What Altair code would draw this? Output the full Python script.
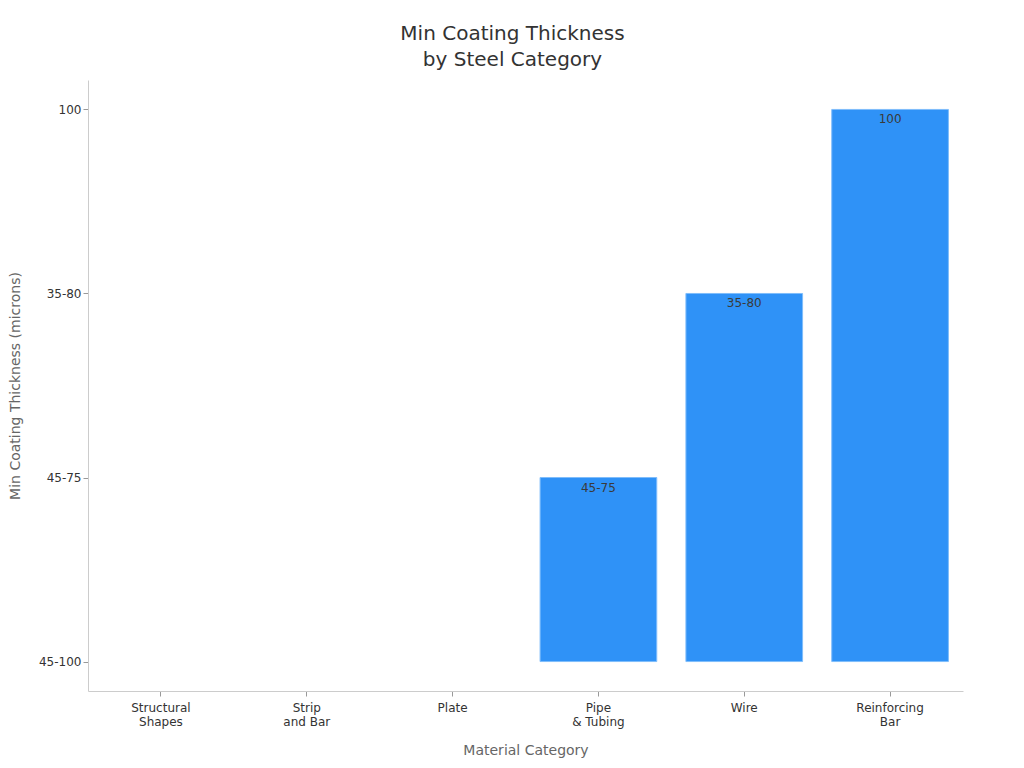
import altair as alt
import pandas as pd

categories = ["Structural\nShapes", "Strip\nand Bar", "Plate", "Pipe\n& Tubing", "Wire", "Reinforcing\nBar"]
values = ["45-100", "45-100", "45-100", "45-75", "35-80", "100"]
y_order = ["100", "35-80", "45-75", "45-100"]
baseline_value = "45-100"

df = pd.DataFrame({
    "cat": categories,
    "val": values,
    "label": [v if v != baseline_value else "" for v in values],
})

FONT = "DejaVu Sans"

x_enc = alt.X(
    "cat:N",
    sort=categories,
    scale=alt.Scale(paddingInner=0.2, paddingOuter=0.1),
    axis=alt.Axis(
        title="Material Category",
        labelAngle=0,
        labelExpr="split(datum.label, '\\n')",
        labelFontSize=12,
        labelColor="#333333",
        titleFontSize=14,
        titleColor="#666666",
        titleFontWeight="normal",
        titlePadding=16,
        domainColor="#cccccc",
        tickColor="#999999",
        tickSize=5,
        labelPadding=6,
        grid=False,
    ),
)

y_enc = alt.Y(
    "val:O",
    sort=y_order,
    scale=alt.Scale(type="point", padding=0.16),
    axis=alt.Axis(
        title="Min Coating Thickness (microns)",
        labelFontSize=12,
        labelColor="#333333",
        titleFontSize=14,
        titleColor="#666666",
        titleFontWeight="normal",
        titlePadding=16,
        domainColor="#cccccc",
        tickColor="#999999",
        tickSize=5,
        grid=False,
    ),
)

base = alt.Chart(df)

bars = base.mark_bar(color="#2f92f7", stroke="#7fbdfb", strokeWidth=1).encode(
    x=x_enc,
    y=y_enc,
    y2=alt.Y2Datum(baseline_value),
    strokeOpacity=alt.condition(alt.datum.label == "", alt.value(0), alt.value(1)),
)

labels = base.mark_text(baseline="top", dy=5, fontSize=12, color="#3a3a3a", font=FONT).encode(
    x=alt.X("cat:N", sort=categories),
    y=alt.Y("val:O", sort=y_order),
    text="label:N",
)

chart = (
    alt.layer(bars, labels)
    .properties(
        width=875,
        height=611,
        padding={"top": 16, "left": 0, "right": 5, "bottom": 5},
        title=alt.TitleParams(
            text=["Min Coating Thickness", "by Steel Category"],
            fontSize=20,
            fontWeight="normal",
            color="#333333",
            anchor="middle",
            lineHeight=26,
            offset=10,
            dx=-13,
            font=FONT,
        ),
    )
    .configure(font=FONT)
    .configure_axis(labelFont=FONT, titleFont=FONT)
    .configure_view(stroke=None)
)

chart.save("out.html", embed_options={"renderer": "svg", "actions": False})
